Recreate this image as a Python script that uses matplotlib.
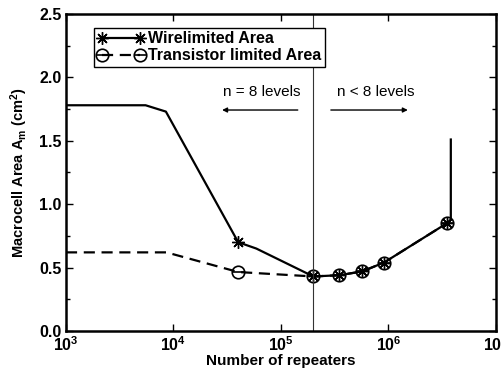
import matplotlib
matplotlib.use('Agg')
import matplotlib.pyplot as plt
from matplotlib.ticker import FixedLocator, NullLocator, FormatStrFormatter
from matplotlib.legend_handler import HandlerTuple
from matplotlib.lines import Line2D

plt.rcParams.update({
    'font.family': ['Liberation Sans', 'DejaVu Sans'],
    'font.size': 9,
    'mathtext.fontset': 'custom',
    'mathtext.rm': 'Liberation Sans:bold',
    'mathtext.it': 'Liberation Sans:bold',
    'mathtext.bf': 'Liberation Sans:bold',
})

# Wire limited area curve
wire_x = [1e3, 5.5e3, 8.5e3, 4.0e4, 5.9e4, 2.0e5, 3.5e5, 5.7e5, 9.1e5, 3.5e6, 3.8e6, 3.8e6]
wire_y = [1.78, 1.78, 1.73, 0.70, 0.65, 0.43, 0.44, 0.47, 0.54, 0.85, 0.88, 1.51]
wire_marks = [3, 5, 6, 7, 8, 9]

# Transistor limited area curve
tran_x = [1e3, 8.6e3, 4.0e4, 2.0e5, 3.5e5, 5.7e5, 9.1e5, 3.5e6]
tran_y = [0.62, 0.62, 0.465, 0.43, 0.44, 0.47, 0.54, 0.85]
tran_marks = [2, 3, 4, 5, 6, 7]

boundary_x = 2.0e5

fig = plt.figure(figsize=(5.01, 3.73), dpi=100)
ax = fig.add_axes([0.1317, 0.1126, 0.8583, 0.85])

ax.plot(tran_x, tran_y, color='black', lw=1.6, ls=(0, (5, 3)))
ax.plot([tran_x[i] for i in tran_marks], [tran_y[i] for i in tran_marks], 'o',
        ms=9, mfc='none', mec='black', mew=1.2)
ax.plot([tran_x[i] for i in tran_marks], [tran_y[i] for i in tran_marks], '_',
        ms=8, mec='black', mew=1.2)
ax.plot(wire_x, wire_y, color='black', lw=1.6)
ax.plot([wire_x[i] for i in wire_marks], [wire_y[i] for i in wire_marks],
        marker=(8, 2, 0), ls='none', ms=9, mec='black', mew=1.0)

ax.axvline(boundary_x, color='#333333', lw=0.8)

# annotations
ax.text(0.455, 0.754, 'n = 8 levels', transform=ax.transAxes, ha='center', va='center',
        fontsize=11)
ax.text(0.72, 0.754, 'n < 8 levels', transform=ax.transAxes, ha='center', va='center',
        fontsize=11)
ax.annotate('', xy=(0.363, 0.697), xytext=(0.539, 0.697), xycoords='axes fraction',
            arrowprops=dict(arrowstyle='-|>', color='black', lw=1.0,
                            mutation_scale=7, shrinkA=0, shrinkB=0))
ax.annotate('', xy=(0.795, 0.697), xytext=(0.616, 0.697), xycoords='axes fraction',
            arrowprops=dict(arrowstyle='-|>', color='black', lw=1.0,
                            mutation_scale=7, shrinkA=0, shrinkB=0))

ax.set_xscale('log')
ax.set_xlim(1e3, 1e7)
ax.set_ylim(0, 2.5)
ax.xaxis.set_major_locator(FixedLocator([1e3, 1e4, 1e5, 1e6, 1e7]))
ax.xaxis.set_minor_locator(NullLocator())
ax.yaxis.set_major_locator(FixedLocator([0, 0.5, 1.0, 1.5, 2.0, 2.5]))
ax.yaxis.set_minor_locator(FixedLocator([0.25, 0.75, 1.25, 1.75, 2.25]))
ax.yaxis.set_major_formatter(FormatStrFormatter('%.1f'))
ax.tick_params(which='both', direction='in', top=True, right=True, width=1.0)
ax.tick_params(which='major', length=5, labelsize=11.5, pad=3)
ax.tick_params(which='minor', length=3)
for lab in ax.get_xticklabels() + ax.get_yticklabels():
    lab.set_fontweight('bold')
for sp in ax.spines.values():
    sp.set_linewidth(1.8)

ax.set_xlabel('Number of repeaters', fontsize=11, fontweight='bold', labelpad=0)
ax.set_ylabel('Macrocell Area A$_{\\rm m}$ (cm$^{2}$)', fontsize=10.5, fontweight='bold',
              labelpad=7)

h_wire = Line2D([], [], color='black', lw=1.6, marker=(8, 2, 0), ms=9, mew=1.0)
h_circ = Line2D([], [], color='black', lw=1.6, ls=(0, (5, 3)), marker='o', ms=9,
                mfc='none', mew=1.2)
h_dash = Line2D([], [], ls='none', marker='_', ms=8, mec='black', mew=1.2)
leg = ax.legend([h_wire, (h_circ, h_dash)], ['Wirelimited Area', 'Transistor limited Area'],
                handler_map={tuple: HandlerTuple(ndivide=1, pad=0)},
                loc='upper left', bbox_to_anchor=(0.065, 0.956), frameon=True,
                fancybox=False, edgecolor='black', framealpha=1, numpoints=2,
                prop={'weight': 'bold', 'size': 11.5}, handlelength=3.0,
                handletextpad=0.2, borderpad=0.2, labelspacing=0.15,
                borderaxespad=0)
leg.get_frame().set_linewidth(1.0)

fig.savefig('out.png', dpi=100)
